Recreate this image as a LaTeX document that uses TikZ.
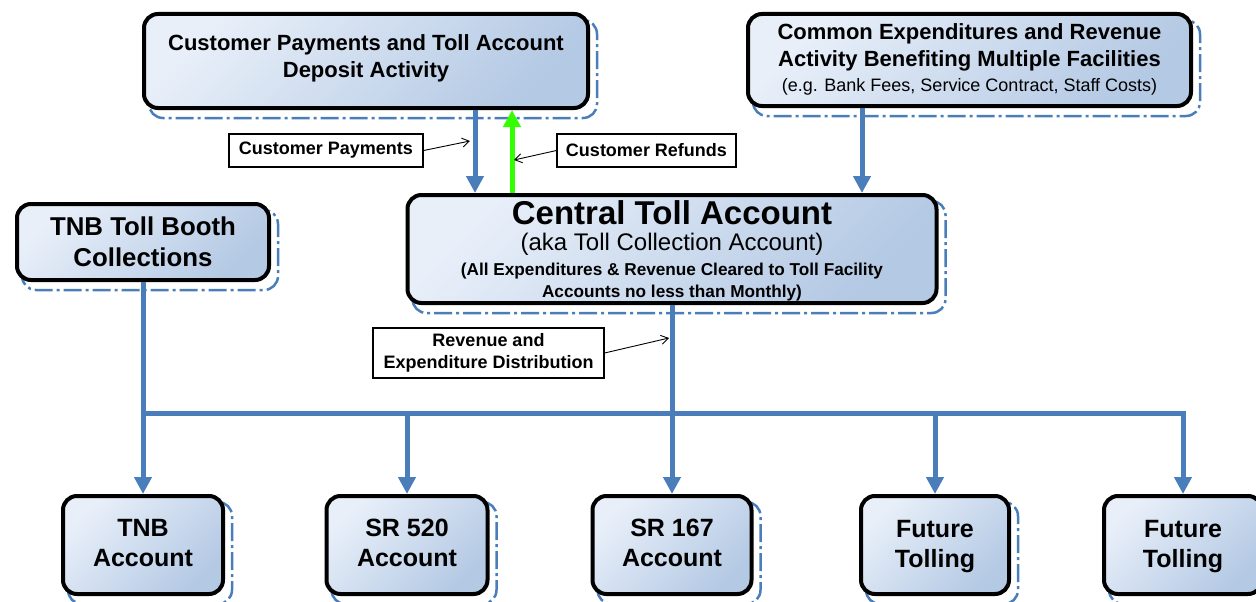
\documentclass[tikz,border=0pt]{standalone}
\usepackage{fontspec}
\setmainfont{Liberation Sans}
\usetikzlibrary{arrows.meta,backgrounds}
\definecolor{boxA}{HTML}{E8EFF9}
\definecolor{boxB}{HTML}{B4C9E4}
\definecolor{lineblue}{HTML}{4A7EBB}
\definecolor{arrgreen}{HTML}{33FF00}
\tikzset{
  box/.style={draw=black, line width=4pt, rounded corners=14pt, top color=boxA, bottom color=boxB, shading angle=45, inner sep=0pt, align=center},
  shadowline/.style={draw=lineblue, line width=2.5pt, dash pattern=on 18pt off 4pt on 3pt off 4pt, rounded corners=14pt},
  flow/.style={draw=lineblue, line width=5pt, -{Triangle[width=17pt,length=17pt]}},
  upflow/.style={draw=arrgreen, line width=5pt, -{Triangle[width=17pt,length=17pt]}},
  tag/.style={draw=black, line width=1.2pt, fill=white, inner sep=0pt, align=center, font=\bfseries\fontsize{18}{22}\selectfont},
  pointer/.style={draw=black, line width=0.9pt, -{Straight Barb[length=7pt,width=9pt]}},
  bigtext/.style={font=\bfseries\fontsize{22}{27}\selectfont, align=center, inner sep=0pt},
  acctext/.style={font=\bfseries\fontsize{25}{30}\selectfont, align=center, inner sep=0pt},
}
\newcommand\boxshadow[1]{\draw[shadowline] ([shift={(7pt,-8pt)}]#1.south west) rectangle ([shift={(7pt,-8pt)}]#1.north east);}
\begin{document}
\begin{tikzpicture}[x=1pt,y=-1pt]
\useasboundingbox (0,0) rectangle (1256,602);
% boxes
\node[box, minimum width=444pt, minimum height=94pt] (cp) at (366,61) {};
\node[bigtext] (cpt) at (366,58.5) {Customer Payments and Toll Account\\Deposit Activity};
\node[box, minimum width=443pt, minimum height=92pt] (cm) at (969.5,60) {};
\node[bigtext] (cmt) at (969.5,47) {Common Expenditures and Revenue\\Activity Benefiting Multiple Facilities};
\node[font=\fontsize{18}{20}\selectfont, inner sep=0pt] (cms) at (969.5,87) {(e.g. Bank Fees, Service Contract, Staff Costs)};
\node[box, minimum width=252pt, minimum height=76pt] (tb) at (143,242) {};
\node[acctext, font=\bfseries\fontsize{25.8}{31}\selectfont] (tbt) at (143,241.5) {TNB Toll Booth\\Collections};
\node[box, minimum width=529pt, minimum height=108pt] (ct) at (672,249) {};
\node[font=\bfseries\fontsize{33}{33}\selectfont, inner sep=0pt] (ct1) at (672,213) {Central Toll Account};
\node[font=\fontsize{24}{24}\selectfont, inner sep=0pt] (ct2) at (672,244) {(aka Toll Collection Account)};
\node[font=\bfseries\fontsize{17.2}{22}\selectfont, align=center, inner sep=0pt] (ct3) at (672,282) {(All Expenditures \& Revenue Cleared to Toll Facility\\Accounts no less than Monthly)};
% bottom accounts
\node[box, minimum width=160pt, minimum height=98pt] (ta) at (143,545) {};
\node[acctext] (tat) at (143,543) {TNB\\Account};
\node[box, minimum width=161pt, minimum height=98pt] (sa) at (407,545) {};
\node[acctext] (sat) at (407,543) {SR 520\\Account};
\node[box, minimum width=159pt, minimum height=98pt] (sb) at (672,545) {};
\node[acctext] (sbt) at (672,543) {SR 167\\Account};
\node[box, minimum width=148pt, minimum height=98pt] (fa) at (935,545) {};
\node[acctext] (fat) at (935,547) {Future\\Tolling};
\node[box, minimum width=158pt, minimum height=98pt] (fb) at (1183,545) {};
\node[acctext] (fbt) at (1183,547) {Future\\Tolling};
% shadows
\begin{scope}[on background layer]
\boxshadow{cp}\boxshadow{cm}\boxshadow{tb}\boxshadow{ct}
\boxshadow{ta}\boxshadow{sa}\boxshadow{sb}\boxshadow{fa}\boxshadow{fb}
\end{scope}
% top arrows
\draw[flow] (475,0 |- cp.south) -- (475,0 |- ct.north);
\draw[upflow] (512,0 |- ct.north) -- (512,0 |- cp.south);
\draw[flow] (862,0 |- cm.south) -- (862,0 |- ct.north);
% distribution
\coordinate (hl) at (143,413);
\coordinate (hr) at (1183,413);
\draw[flow] (tb.south) -- (ta.north);
\draw[flow] (hl) -- (hr) -- (fb.north);
\draw[flow] (sa.north |- hl) -- (sa.north);
\draw[flow] (fa.north |- hl) -- (fa.north);
\draw[flow] (ct.south) -- (sb.north);
% labels
\node[tag, minimum width=194pt, minimum height=33pt] (cpl) at (326,150.5) {Customer Payments};
\node[tag, minimum width=179pt, minimum height=33pt] (rfl) at (646.5,150.5) {Customer Refunds};
\node[tag, minimum width=231pt, minimum height=50pt] (rdl) at (488.5,353) {Revenue and\\Expenditure Distribution};
\coordinate (pp) at (470,141);
\coordinate (pr) at (514,160);
\coordinate (pd) at (669,338);
\draw[pointer] (cpl.east) -- (pp);
\draw[pointer] (rfl.west) -- (pr);
\draw[pointer] (rdl.east) -- (pd);
\end{tikzpicture}
\end{document}
